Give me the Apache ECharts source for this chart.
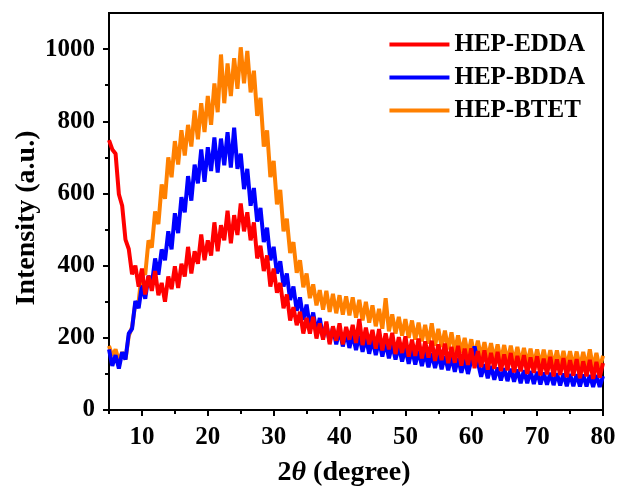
<!DOCTYPE html>
<html>
<head>
<meta charset="utf-8">
<script src="https://cdn.jsdelivr.net/npm/echarts@6/dist/echarts.min.js"></script>
<style>html,body{margin:0;padding:0;background:#fff}#c{width:620px;height:489px}</style>
</head>
<body>
<div id="c"></div>
<script>
// 2θ sampling grid (degrees)
var twoTheta = [5,5.5,6,6.5,7,7.5,8,8.5,9,9.5,10,10.5,11,11.5,12,12.5,13,13.5,14,14.5,15,15.5,16,16.5,17,17.5,18,18.5,19,19.5,20,20.5,21,21.5,22,22.5,23,23.5,24,24.5,25,25.5,26,26.5,27,27.5,28,28.5,29,29.5,30,30.5,31,31.5,32,32.5,33,33.5,34,34.5,35,35.5,36,36.5,37,37.5,38,38.5,39,39.5,40,40.5,41,41.5,42,42.5,43,43.5,44,44.5,45,45.5,46,46.5,47,47.5,48,48.5,49,49.5,50,50.5,51,51.5,52,52.5,53,53.5,54,54.5,55,55.5,56,56.5,57,57.5,58,58.5,59,59.5,60,60.5,61,61.5,62,62.5,63,63.5,64,64.5,65,65.5,66,66.5,67,67.5,68,68.5,69,69.5,70,70.5,71,71.5,72,72.5,73,73.5,74,74.5,75,75.5,76,76.5,77,77.5,78,78.5,79,79.5,80];

var seriesNames = ['HEP-EDDA','HEP-BDDA','HEP-BTET'];

var hepEDDA = [748,722,710,598,566,472,446,376,400,342,392,320,372,330,385,318,352,300,370,335,398,338,405,370,452,378,440,405,486,415,470,428,520,440,512,470,552,462,540,485,572,495,548,470,520,420,455,385,428,342,392,325,352,282,320,248,285,235,272,212,255,212,258,198,240,195,245,182,232,192,240,182,230,195,236,186,252,180,228,182,222,170,224,165,212,168,214,155,202,158,204,148,195,150,198,143,190,145,192,136,182,138,184,130,175,131,178,123,170,125,171,116,163,119,165,112,158,114,161,108,154,110,158,104,150,107,152,100,146,103,149,96,142,99,147,93,140,97,144,91,138,95,141,88,135,93,139,86,133,90,130];

var hepBDDA = [168,122,152,115,160,140,212,225,302,282,345,308,372,348,420,375,445,415,495,445,545,490,590,548,648,580,680,628,722,632,728,662,755,658,752,678,770,672,782,668,710,612,668,566,615,522,560,465,505,415,452,378,412,342,378,305,342,275,312,250,292,230,270,215,255,200,238,188,228,182,222,176,216,172,210,166,206,161,200,156,196,152,192,148,188,143,182,140,177,134,172,128,168,126,164,122,160,118,157,116,154,113,150,110,147,106,144,103,140,100,137,176,132,92,127,88,122,84,118,82,116,80,114,78,112,74,110,74,108,72,106,71,104,70,103,69,102,68,101,66,100,66,99,65,98,65,97,64,97,64,94];

var hepBTET = [178,150,168,135,160,140,205,230,295,300,385,375,470,450,550,515,625,585,700,645,745,680,775,705,790,730,830,750,850,770,870,790,905,825,985,850,960,870,975,890,1005,905,995,880,940,815,865,730,775,645,690,570,610,495,530,435,465,380,415,340,378,310,348,290,332,278,330,272,322,268,318,264,315,262,312,256,305,248,300,242,290,232,280,225,310,218,265,212,258,206,252,200,248,195,242,190,236,184,240,178,225,174,220,168,215,162,207,158,200,152,196,148,192,145,188,142,185,140,182,137,180,134,178,132,175,130,172,128,170,126,168,124,167,123,166,122,165,121,164,120,163,119,162,118,161,117,168,116,158,115,150];

var xTicks = [10,20,30,40,50,60,70,80];
var xMinorTicks = [5,15,25,35,45,55,65,75];
var yTicks = [0,200,400,600,800,1000];
var yMinorTicks = [100,300,500,700,900];

var colors = {'HEP-EDDA':'#FF0000','HEP-BDDA':'#0000FF','HEP-BTET':'#FF8000'};

function pairs(ys){ return twoTheta.map(function(x,i){ return [x, ys[i]]; }); }

var FONT = 'Liberation Serif';
var chart = echarts.init(document.getElementById('c'), null, {renderer:'canvas'});
var axisLine = {lineStyle:{color:'#000', width:2}};
chart.setOption({
  animation:false,
  backgroundColor:'#fff',
  grid:{left:109, right:17, top:13, bottom:79, outerBoundsMode:'none', containLabel:false,
        show:true, borderColor:'#000', borderWidth:2, backgroundColor:'transparent'},
  legend:{
    data:seriesNames, orient:'vertical', right:30, top:27, itemGap:8,
    icon:'rect', itemWidth:60, itemHeight:4,
    textStyle:{fontFamily:FONT, fontWeight:'bold', fontSize:25, color:'#000'}
  },
  xAxis:[{
    type:'value', min:5, max:80, position:'bottom',
    axisLine:axisLine,
    axisTick:{show:true, length:6, lineStyle:{color:'#000', width:2}, customValues:xTicks},
    axisLabel:{customValues:xTicks, fontFamily:FONT, fontWeight:'bold', fontSize:25, color:'#000', margin:15,
      formatter:function(v){return String(v);}},
    splitLine:{show:false},
    name:'2{i|θ} (degree)', nameLocation:'middle', nameGap:49, nameMoveOverlap:false,
    nameTextStyle:{fontFamily:FONT, fontWeight:'bold', fontSize:28, color:'#000', padding:[0,24,0,0],
      rich:{i:{fontFamily:FONT, fontStyle:'italic', fontWeight:'bold', fontSize:28, color:'#000'}}}
  },{
    type:'value', min:5, max:80, position:'bottom', offset:0,
    axisLine:{show:false},
    axisTick:{show:true, length:4, lineStyle:{color:'#000', width:2}, customValues:xMinorTicks},
    axisLabel:{show:false}, splitLine:{show:false}
  }],
  yAxis:[{
    type:'value', min:0, max:1100, position:'left',
    axisLine:axisLine,
    axisTick:{show:true, length:6, lineStyle:{color:'#000', width:2}, customValues:yTicks},
    axisLabel:{customValues:yTicks, fontFamily:FONT, fontWeight:'bold', fontSize:25, color:'#000', margin:14,
      formatter:function(v){return String(v);}},
    splitLine:{show:false},
    name:'Intensity (a.u.)', nameLocation:'middle', nameGap:68, nameRotate:90, nameMoveOverlap:false,
    nameTextStyle:{fontFamily:FONT, fontWeight:'bold', fontSize:28, color:'#000', padding:[0,13,0,0]}
  },{
    type:'value', min:0, max:1100, position:'left', offset:0,
    axisLine:{show:false},
    axisTick:{show:true, length:4, lineStyle:{color:'#000', width:2}, customValues:yMinorTicks},
    axisLabel:{show:false}, splitLine:{show:false}
  }],
  series:[
    {name:'HEP-BTET', type:'line', data:pairs(hepBTET), showSymbol:false, symbol:'none', z:2,
     lineStyle:{color:colors['HEP-BTET'], width:4}, itemStyle:{color:colors['HEP-BTET']}},
    {name:'HEP-BDDA', type:'line', data:pairs(hepBDDA), showSymbol:false, symbol:'none', z:3,
     lineStyle:{color:colors['HEP-BDDA'], width:4}, itemStyle:{color:colors['HEP-BDDA']}},
    {name:'HEP-EDDA', type:'line', data:pairs(hepEDDA), showSymbol:false, symbol:'none', z:4,
     lineStyle:{color:colors['HEP-EDDA'], width:4}, itemStyle:{color:colors['HEP-EDDA']}}
  ]
});
</script>
</body>
</html>
